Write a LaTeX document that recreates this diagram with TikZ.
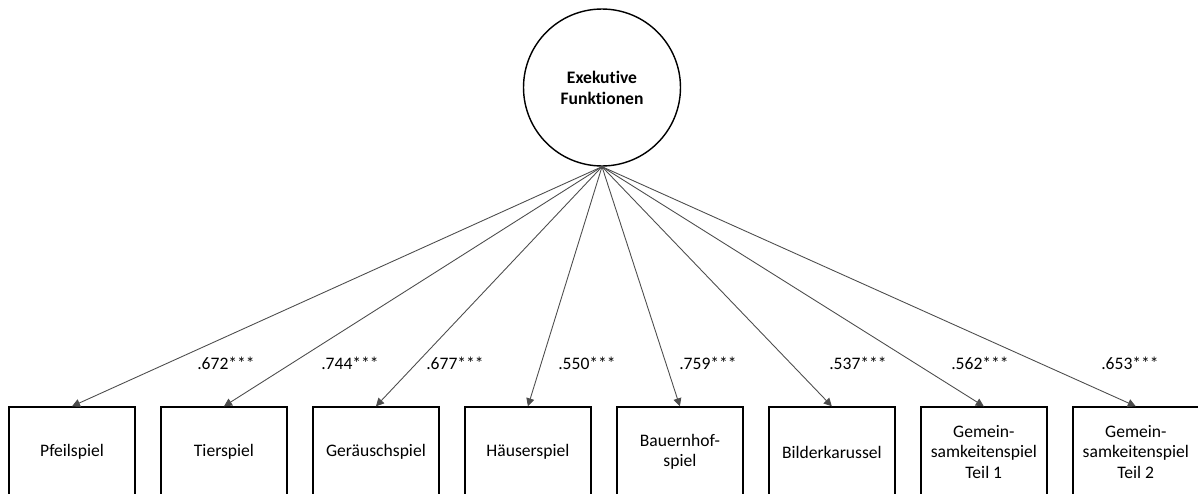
\documentclass[tikz,border=0pt]{standalone}
\usepackage{fontspec}
\setmainfont{Carlito}[Ligatures=NoCommon]
\usetikzlibrary{arrows.meta}
\begin{document}
\begin{tikzpicture}[x=0.02cm,y=-0.02cm,node distance=3.04cm]
\tikzstyle{latent} = [circle, draw=black, line width=0.8pt, minimum size=3.14cm, inner sep=0pt, align=center, font=\fontsize{10}{12}\selectfont\bfseries]
\tikzstyle{task} = [rectangle, draw=black, line width=0.8pt, minimum width=2.52cm, minimum height=1.8cm, inner sep=0pt, align=center, font=\fontsize{10}{11.5}\selectfont]
\tikzstyle{load} = [font=\fontsize{10}{12}\selectfont]
\tikzstyle{path} = [-{Triangle[length=1.6mm,width=1.6mm]}, draw=black!70, line width=0.5pt]
\useasboundingbox (0,0) rectangle (1198,494);
\node (EF) [latent] at (602,87.5) {Exekutive\\Funktionen};
\node (T1) [task] at (72,452) {Pfeilspiel};
\node (T2) [task, right of=T1] {Tierspiel};
\node (T3) [task, right of=T2] {Geräuschspiel};
\node (T4) [task, right of=T3] {Häuserspiel};
\node (T5) [task, right of=T4] {Bauernhof-\\spiel};
\node (T6) [task, right of=T5] {Bilderkarussel};
\node (T7) [task, right of=T6] {Gemein-\\samkeitenspiel\\Teil 1};
\node (T8) [task, right of=T7] {Gemein-\\samkeitenspiel\\Teil 2};
% loadings
\node (L1) [load] at (226,363) {.672***};
\node (L2) [load] at (350,363) {.744***};
\node (L3) [load] at (455,363) {.677***};
\node (L4) [load] at (587,363) {.550***};
\node (L5) [load] at (708,363) {.759***};
\node (L6) [load] at (858,363) {.537***};
\node (L7) [load] at (980,363) {.562***};
\node (L8) [load] at (1130,363) {.653***};
\foreach \i in {1,...,8}
  \draw [path] (EF.south) -- (T\i.north);
\end{tikzpicture}
\end{document}
